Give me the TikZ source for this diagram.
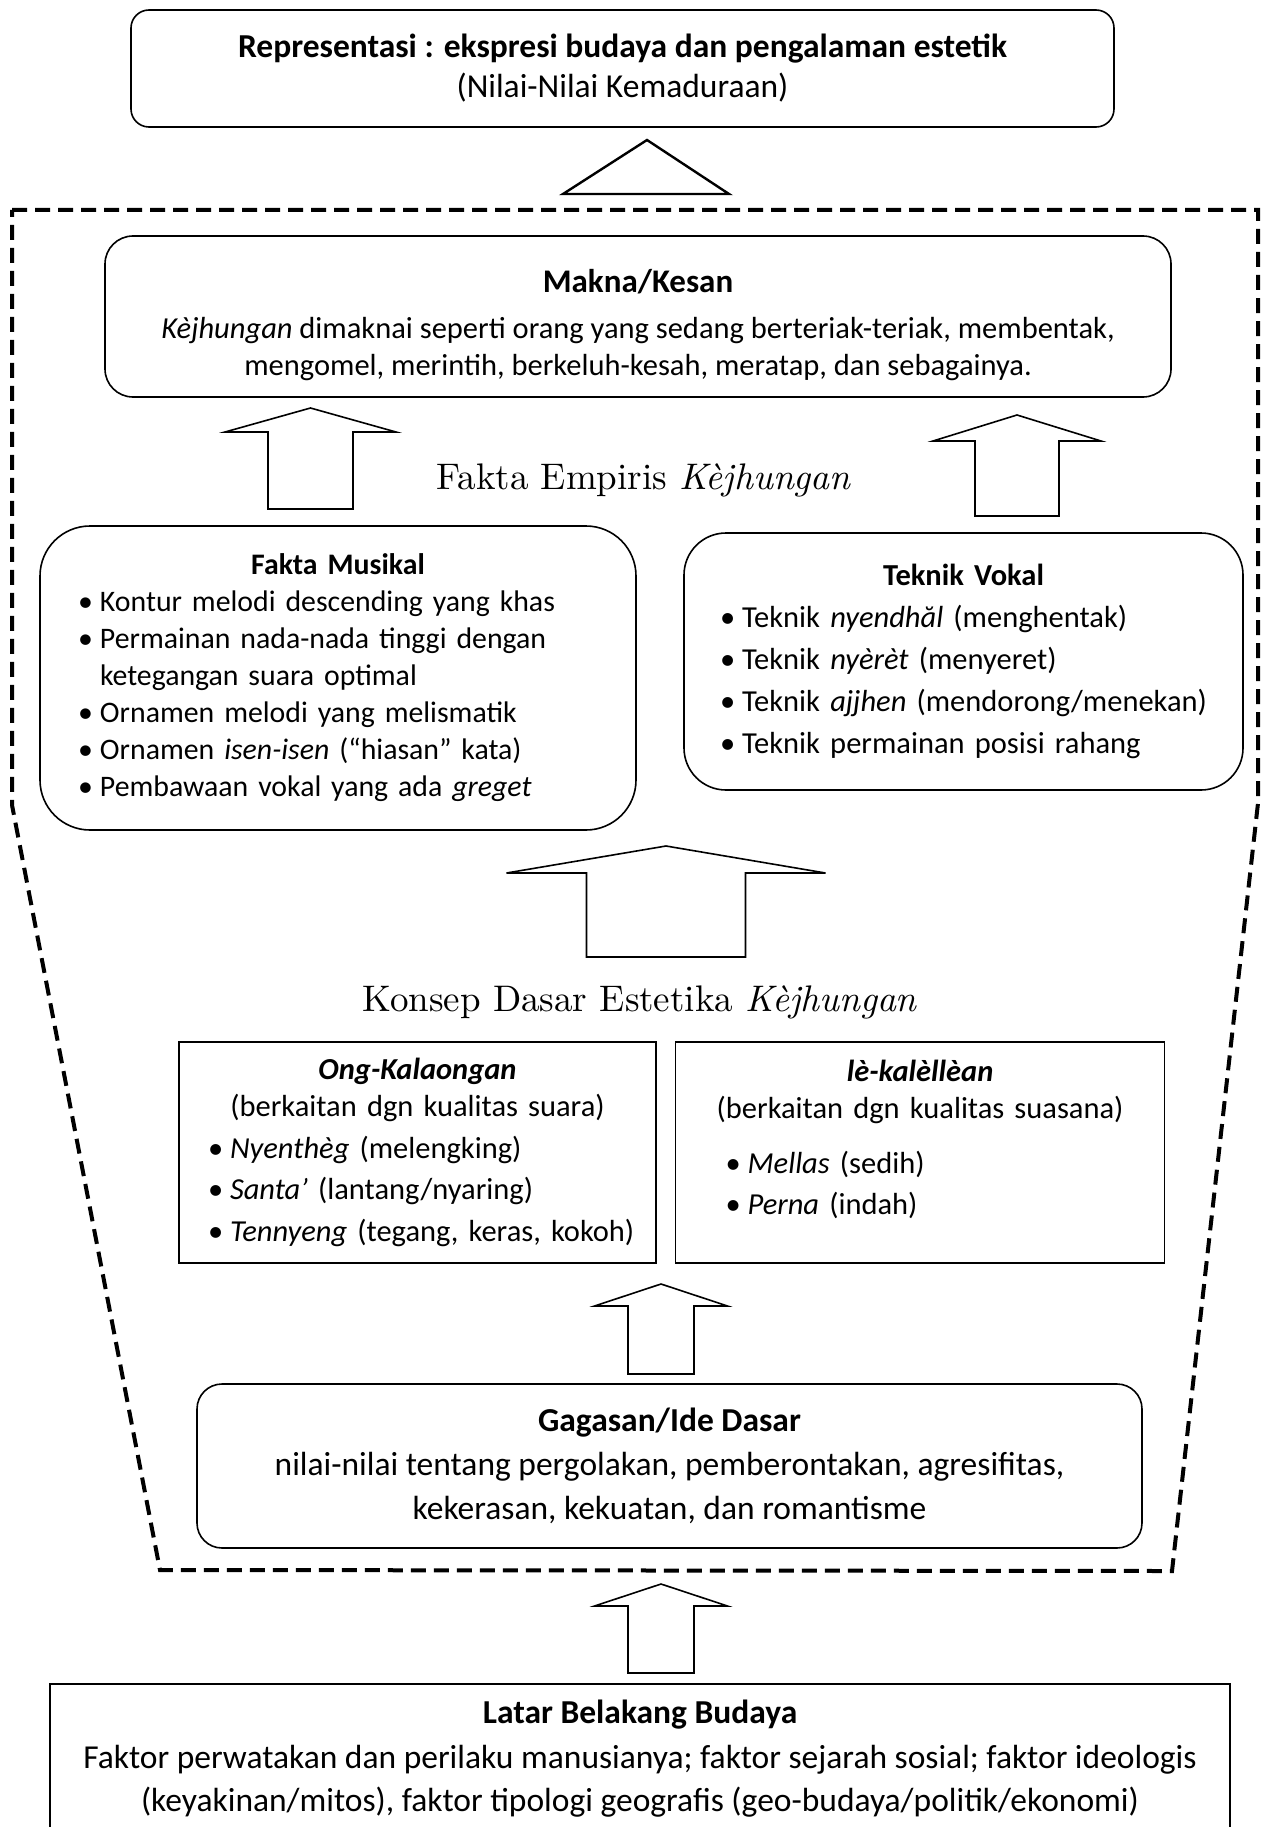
\documentclass[tikz,border=0pt]{standalone}
\usepackage{fontspec}
\newfontfamily\calfont{Carlito}
\newfontfamily\lmten{lmroman10-regular.otf}[ItalicFont=lmroman10-italic.otf]
\usetikzlibrary{positioning}

\newcommand{\kbul}[1]{\mbox{\makebox[22pt][l]{\textbullet}#1}}
\newcommand{\kind}[1]{\mbox{\hspace*{22pt}#1}}
\newcommand{\blockup}[6]{\draw[blockarrow] ({#1-#5},#2) -- ({#1-#5},#3) -- ({#1-#6},#3) -- (#1,#4)
	-- ({#1+#6},#3) -- ({#1+#5},#3) -- ({#1+#5},#2) -- cycle;}

\begin{document}
\begin{tikzpicture}
	[x=1pt, y=-1pt,
	 every node/.style={font=\calfont\fontsize{30.5}{37}\selectfont},
	 big/.style={font=\calfont\fontsize{33.5}{40}\selectfont},
	 box/.style={draw, line width=1.6pt, align=left},
	 rbox/.style={box, rounded corners=#1},
	 heading/.style={font=\lmten\fontsize{37}{44}\selectfont},
	 frame/.style={line width=4pt, dash pattern=on 15pt off 8pt, line join=miter},
	 blockarrow/.style={line width=1.6pt, line join=miter},
	 peak/.style={line width=2.4pt, line join=miter}]
	\useasboundingbox (0,0) rectangle (1261,1827);
	\clip (0,0) rectangle (1261,1827);

	\node[rbox=18pt, big, align=center, minimum width=983pt, minimum height=117pt] (repr) at (622.5,68.5)
		{\textbf{Representasi : ekspresi budaya dan pengalaman estetik}\\(Nilai-Nilai Kemaduraan)};
	\draw[peak] (563,194) -- (647,140) -- (729,194) -- cycle;

	\draw[frame] (12,210) -- (1258,210) -- (1258,803) -- (1172,1571) -- (160,1570) -- (12,805) -- cycle;

	\node[rbox=28pt, align=center, minimum width=1066pt, minimum height=161pt] (makna) at (638,316.5)
		{\rule{0pt}{40pt}{\fontsize{33}{40}\selectfont\textbf{Makna/Kesan}}\\[9pt]
		 \textit{Kèjhungan} dimaknai seperti orang yang sedang berteriak-teriak, membentak,\\
		 mengomel, merintih, berkeluh-kesah, meratap, dan sebagainya.};
	\node[heading] (empiris) at (644,480) {Fakta Empiris \textit{Kèjhungan}};

	\node[rbox=50pt, text width=520pt, inner xsep=38pt, minimum height=304pt,
		font=\calfont\fontsize{29.8}{37}\selectfont] (musikal) at (338,678)
		{\makebox[520pt]{\textbf{Fakta Musikal}}\\
		 \kbul{Kontur melodi descending yang khas}\\
		 \kbul{Permainan nada-nada tinggi dengan}\\
		 \kind{ketegangan suara optimal}\\
		 \kbul{Ornamen melodi yang melismatik}\\
		 \kbul{Ornamen \textit{isen-isen} (“hiasan” kata)}\\
		 \kbul{Pembawaan vokal yang ada \textit{greget}}};
	\node[rbox=42pt, text width=487pt, inner xsep=36pt, minimum height=257pt] (vokal) at (963.5,661.5)
		{\makebox[487pt]{\textbf{Teknik Vokal}}\\[5pt]
		 \kbul{Teknik \textit{nyendhăl} (menghentak)}\\[5pt]
		 \kbul{Teknik \textit{nyèrèt} (menyeret)}\\[5pt]
		 \kbul{Teknik \textit{ajjhen} (mendorong/menekan)}\\[5pt]
		 \kbul{Teknik permainan posisi rahang}};

	\blockup{310.5}{509}{432}{408}{42.5}{85.5}
	\blockup{1017}{516}{441}{415}{42}{84}
	\blockup{666}{957}{873}{846}{79.5}{159.5}

	\node[heading] (konsep) at (640,1002) {Konsep Dasar Estetika \textit{Kèjhungan}};

	\node[box, text width=419pt, inner xsep=29pt, minimum height=221pt] (ong) at (417.5,1152.5)
		{\makebox[419pt]{\textbf{\textit{Ong-Kalaongan}}}\\
		 \makebox[419pt]{(berkaitan dgn kualitas suara)}\\[5pt]
		 \kbul{\textit{Nyenthèg} (melengking)}\\[4pt]
		 \kbul{\textit{Santa’} (lantang/nyaring)}\\[5pt]
		 \kbul{\textit{Tennyeng} (tegang, keras, kokoh)}};
	\node[box, text width=389pt, inner xsep=50pt, minimum height=221pt] (lele) [right=18pt of ong]
		{\makebox[389pt]{\textbf{\textit{lè-kalèllèan}}}\\
		 \makebox[389pt]{(berkaitan dgn kualitas suasana)}\\[18pt]
		 \kbul{\textit{Mellas} (sedih)}\\[4pt]
		 \kbul{\textit{Perna} (indah)}\\[-7pt]\mbox{}};

	\blockup{661}{1374}{1306}{1284}{33}{66.5}

	\node[rbox=25pt, big, align=center, minimum width=945pt, minimum height=164pt] (gagasan) at (669.5,1466)
		{\textbf{Gagasan/Ide Dasar}\\[4pt]
		 nilai-nilai tentang pergolakan, pemberontakan, agresifitas,\\[4pt]
		 kekerasan, kekuatan, dan romantisme};

	\blockup{661}{1673}{1606}{1584}{33}{66.5}

	\node[box, big, align=center, minimum width=1180pt, minimum height=150pt, anchor=north] (latar) at (640,1683)
		{\textbf{Latar Belakang Budaya}\\[5pt]
		 Faktor perwatakan dan perilaku manusianya; faktor sejarah sosial; faktor ideologis\\[3pt]
		 (keyakinan/mitos), faktor tipologi geografis (geo-budaya/politik/ekonomi)};
\end{tikzpicture}
\end{document}
